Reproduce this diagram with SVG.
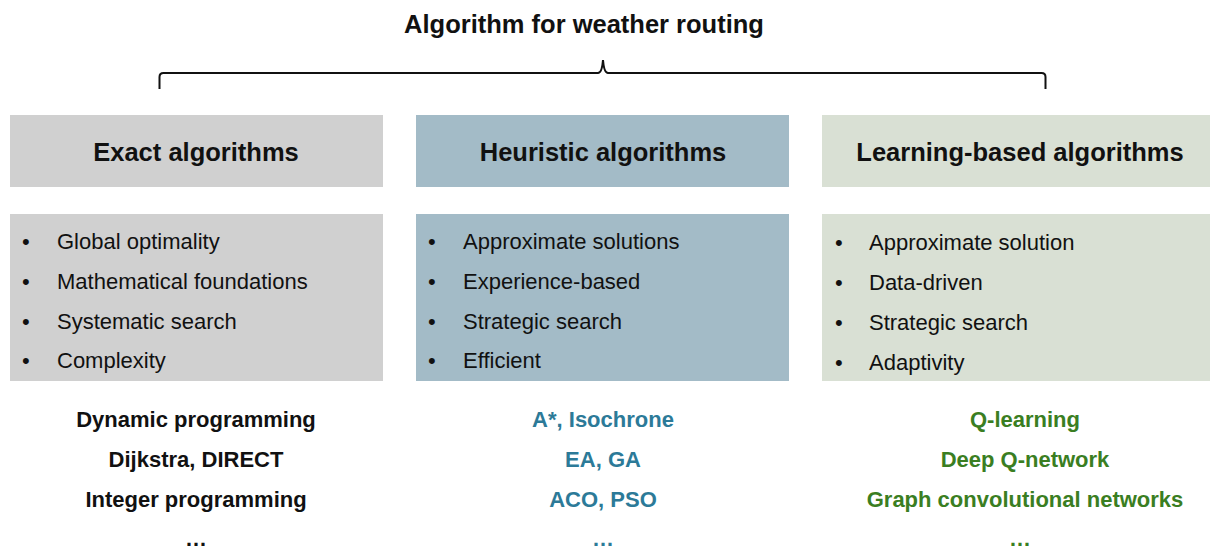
<svg xmlns="http://www.w3.org/2000/svg" width="1210" height="547" viewBox="0 0 1210 547">
  <style>
    text { font-family: "Liberation Sans", Arial, sans-serif; fill: #111; }
    .title { font-size: 25.5px; font-weight: bold; text-anchor: middle; }
    .head { font-size: 25.5px; font-weight: bold; text-anchor: middle; }
    .item { font-size: 22px; }
    .ex { font-size: 22px; font-weight: bold; text-anchor: middle; }
    .gray { fill: #d0d0d0; }
    .blue { fill: #a3bbc7; }
    .green { fill: #d9e0d4; }
    .tb { fill: #2c7a98; }
    .tg { fill: #3a7e22; }
  </style>

  <rect width="1210" height="547" fill="#ffffff"/>

  <text class="title" x="584" y="33">Algorithm for weather routing</text>

  <!-- curly brace spanning the three categories -->
  <g id="connectors" fill="none" stroke="#111" stroke-width="2">
    <path d="M159.5 89 V77 Q159.5 73 163.5 73 H598 Q602 73 603 60 Q604 73 608 73 H1041.5 Q1045.5 73 1045.5 77 V89"/>
  </g>

  <g id="exact">
    <rect class="gray" x="10" y="115" width="373" height="72"/>
    <text class="head" x="196" y="161">Exact algorithms</text>
    <rect class="gray" x="10" y="214" width="373" height="167"/>
    <g class="item">
      <text x="22" y="249">•</text><text x="57" y="249">Global optimality</text>
      <text x="22" y="289">•</text><text x="57" y="289">Mathematical foundations</text>
      <text x="22" y="329">•</text><text x="57" y="329">Systematic search</text>
      <text x="22" y="368">•</text><text x="57" y="368">Complexity</text>
    </g>
    <text class="ex" x="196" y="427">Dynamic programming</text>
    <text class="ex" x="196" y="467">Dijkstra, DIRECT</text>
    <text class="ex" x="196" y="507">Integer programming</text>
    <text class="ex" x="196" y="546">…</text>
  </g>

  <g id="heuristic">
    <rect class="blue" x="416" y="115" width="373" height="72"/>
    <text class="head" x="603" y="161">Heuristic algorithms</text>
    <rect class="blue" x="416" y="214" width="373" height="167"/>
    <g class="item">
      <text x="428" y="249">•</text><text x="463" y="249">Approximate solutions</text>
      <text x="428" y="289">•</text><text x="463" y="289">Experience-based</text>
      <text x="428" y="329">•</text><text x="463" y="329">Strategic search</text>
      <text x="428" y="368">•</text><text x="463" y="368">Efficient</text>
    </g>
    <text class="ex tb" x="603" y="427">A*, Isochrone</text>
    <text class="ex tb" x="603" y="467">EA, GA</text>
    <text class="ex tb" x="603" y="507">ACO, PSO</text>
    <text class="ex tb" x="603" y="546">…</text>
  </g>

  <g id="learning">
    <rect class="green" x="822" y="115" width="388" height="72"/>
    <text class="head" x="1020" y="161">Learning-based algorithms</text>
    <rect class="green" x="822" y="214" width="388" height="167"/>
    <g class="item">
      <text x="835" y="250">•</text><text x="869" y="250">Approximate solution</text>
      <text x="835" y="290">•</text><text x="869" y="290">Data-driven</text>
      <text x="835" y="330">•</text><text x="869" y="330">Strategic search</text>
      <text x="835" y="370">•</text><text x="869" y="370">Adaptivity</text>
    </g>
    <text class="ex tg" x="1025" y="427">Q-learning</text>
    <text class="ex tg" x="1025" y="467">Deep Q-network</text>
    <text class="ex tg" x="1025" y="507">Graph convolutional networks</text>
    <text class="ex tg" x="1020" y="546">…</text>
  </g>
</svg>
